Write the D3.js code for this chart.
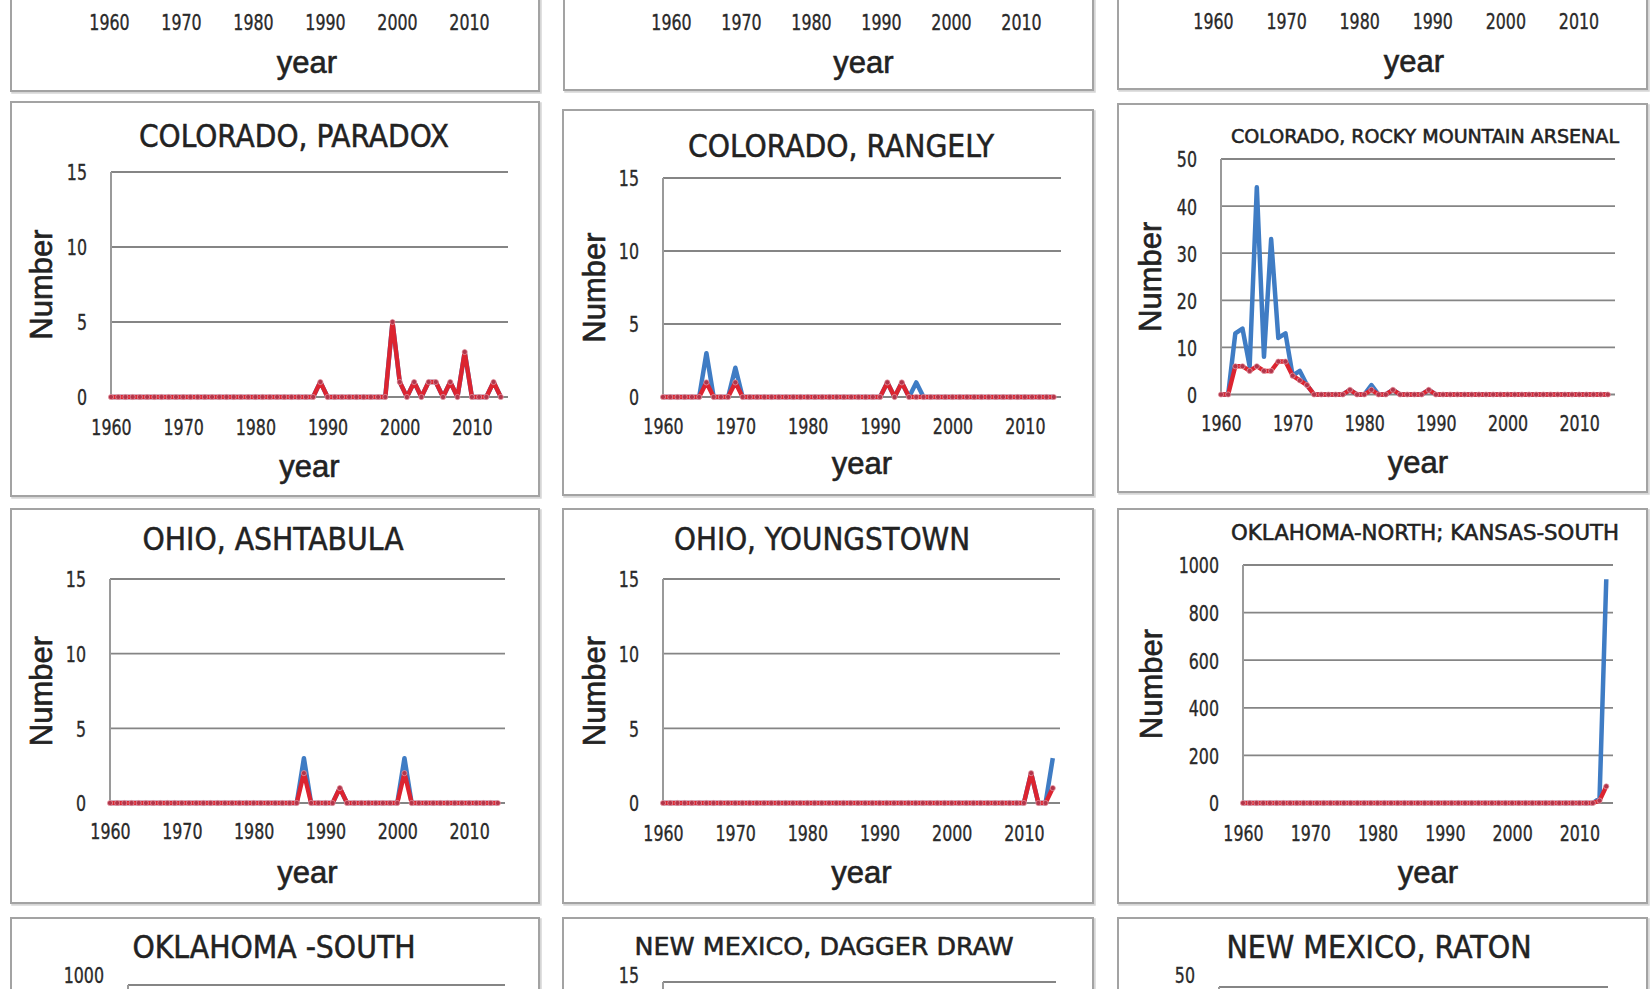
<!DOCTYPE html>
<html>
<head>
<meta charset="utf-8">
<script src="https://cdn.jsdelivr.net/npm/d3@7"></script>
<style>
  html, body { margin: 0; padding: 0; background: #ffffff; }
  svg { display: block; }
  .narrow { font-family: "Liberation Sans Narrow", "DejaVu Sans Condensed", "Arial Narrow", "Liberation Sans", sans-serif; }
  .wide { font-family: "Liberation Sans", Arial, sans-serif; }
</style>
</head>
<body>
<svg id="chart" width="1650" height="989"></svg>
<script>
// ---------------- DATA ----------------
const years = [
  1960,1961,1962,1963,1964,1965,1966,1967,1968,1969,
  1970,1971,1972,1973,1974,1975,1976,1977,1978,1979,
  1980,1981,1982,1983,1984,1985,1986,1987,1988,1989,
  1990,1991,1992,1993,1994,1995,1996,1997,1998,1999,
  2000,2001,2002,2003,2004,2005,2006,2007,2008,2009,
  2010,2011,2012,2013,2014
];
const xTickYears = [1960, 1970, 1980, 1990, 2000, 2010];
const yTicks15 = [0, 5, 10, 15];
const yTicks50 = [0, 10, 20, 30, 40, 50];
const yTicks1000 = [0, 200, 400, 600, 800, 1000];

// blue = all events, red = larger events
const paradoxAll = [
  0,0,0,0,0,0,0,0,0,0,
  0,0,0,0,0,0,0,0,0,0,
  0,0,0,0,0,0,0,0,0,1,
  0,0,0,0,0,0,0,0,0,5,
  1,0,1,0,1,1,0,1,0,3,
  0,0,0,1,0
];
const paradoxLarge = [
  0,0,0,0,0,0,0,0,0,0,
  0,0,0,0,0,0,0,0,0,0,
  0,0,0,0,0,0,0,0,0,1,
  0,0,0,0,0,0,0,0,0,5,
  1,0,1,0,1,1,0,1,0,3,
  0,0,0,1,0
];
const rangelyAll = [
  0,0,0,0,0,0,3,0,0,0,
  2,0,0,0,0,0,0,0,0,0,
  0,0,0,0,0,0,0,0,0,0,
  0,1,0,1,0,1,0,0,0,0,
  0,0,0,0,0,0,0,0,0,0,
  0,0,0,0,0
];
const rangelyLarge = [
  0,0,0,0,0,0,1,0,0,0,
  1,0,0,0,0,0,0,0,0,0,
  0,0,0,0,0,0,0,0,0,0,
  0,1,0,1,0,0,0,0,0,0,
  0,0,0,0,0,0,0,0,0,0,
  0,0,0,0,0
];
const rockyAll = [
  0,0,13,14,6,44,8,33,12,13,
  4,5,2,0,0,0,0,0,1,0,
  0,2,0,0,1,0,0,0,0,1,
  0,0,0,0,0,0,0,0,0,0,
  0,0,0,0,0,0,0,0,0,0,
  0,0,0,0,0
];
const rockyLarge = [
  0,0,6,6,5,6,5,5,7,7,
  4,3,2,0,0,0,0,0,1,0,
  0,1,0,0,1,0,0,0,0,1,
  0,0,0,0,0,0,0,0,0,0,
  0,0,0,0,0,0,0,0,0,0,
  0,0,0,0,0
];
const ashtabulaAll = [
  0,0,0,0,0,0,0,0,0,0,
  0,0,0,0,0,0,0,0,0,0,
  0,0,0,0,0,0,0,3,0,0,
  0,0,1,0,0,0,0,0,0,0,
  0,3,0,0,0,0,0,0,0,0,
  0,0,0,0,0
];
const ashtabulaLarge = [
  0,0,0,0,0,0,0,0,0,0,
  0,0,0,0,0,0,0,0,0,0,
  0,0,0,0,0,0,0,2,0,0,
  0,0,1,0,0,0,0,0,0,0,
  0,2,0,0,0,0,0,0,0,0,
  0,0,0,0,0
];
const youngstownAll = [
  0,0,0,0,0,0,0,0,0,0,
  0,0,0,0,0,0,0,0,0,0,
  0,0,0,0,0,0,0,0,0,0,
  0,0,0,0,0,0,0,0,0,0,
  0,0,0,0,0,0,0,0,0,0,
  0,2,0,0,3
];
const youngstownLarge = [
  0,0,0,0,0,0,0,0,0,0,
  0,0,0,0,0,0,0,0,0,0,
  0,0,0,0,0,0,0,0,0,0,
  0,0,0,0,0,0,0,0,0,0,
  0,0,0,0,0,0,0,0,0,0,
  0,2,0,0,1
];
const okNorthAll = [
  0,0,0,0,0,0,0,0,0,0,
  0,0,0,0,0,0,0,0,0,0,
  0,0,0,0,0,0,0,0,0,0,
  0,0,0,0,0,0,0,0,0,0,
  0,0,0,0,0,0,0,0,0,0,
  0,0,0,20,940
];
const okNorthLarge = [
  0,0,0,0,0,0,0,0,0,0,
  0,0,0,0,0,0,0,0,0,0,
  0,0,0,0,0,0,0,0,0,0,
  0,0,0,0,0,0,0,0,0,0,
  0,0,0,0,0,0,0,0,0,0,
  0,0,0,10,70
];

const titles = [
  "COLORADO, PARADOX", "COLORADO, RANGELY", "COLORADO, ROCKY MOUNTAIN ARSENAL",
  "OHIO, ASHTABULA", "OHIO, YOUNGSTOWN", "OKLAHOMA-NORTH; KANSAS-SOUTH",
  "OKLAHOMA -SOUTH", "NEW MEXICO, DAGGER DRAW", "NEW MEXICO, RATON"
];
const xTitle = "year";
const yTitle = "Number";

// ---------------- LAYOUT ----------------
const BLUE = "#3f7cc4";
const RED = "#dc2430";
const VIEW_H = 989;

const panels = [
  // row 1 (only bottom visible)
  { box:[11,-40,539,91], left:109, right:505, top:-240, zero:-10, showY:false, tickBase:30, yearBase:73 },
  { box:[564,-40,1093,90], left:671, right:1056, top:-240, zero:-10, showY:false, tickBase:30, yearBase:73 },
  { box:[1118,-40,1647,89], left:1213, right:1615, top:-240, zero:-10, showY:false, tickBase:29, yearBase:72 },
  // row 2
  { box:[11,102,539,496], left:111, right:508, top:172, zero:397, yTicks:yTicks15, tickBase:435, yearBase:477, numX:41,
    title:titles[0], titleX:294, titleY:147, titleSize:32, titleW:310, all:paradoxAll, large:paradoxLarge },
  { box:[563,110,1093,495], left:663, right:1061, top:178, zero:397, yTicks:yTicks15, tickBase:434, yearBase:474, numX:594,
    title:titles[1], titleX:841, titleY:157, titleSize:32, titleW:306, all:rangelyAll, large:rangelyLarge },
  { box:[1118,104,1647,492], left:1221, right:1615, top:159, zero:394.5, yTicks:yTicks50, tickBase:431, yearBase:473, numX:1150,
    title:titles[2], titleX:1425, titleY:143, titleSize:19, titleW:388, all:rockyAll, large:rockyLarge },
  // row 3
  { box:[11,509,539,903], left:110, right:505, top:579, zero:803, yTicks:yTicks15, tickBase:839, yearBase:883, numX:41,
    title:titles[3], titleX:273, titleY:550, titleSize:32, titleW:261, all:ashtabulaAll, large:ashtabulaLarge },
  { box:[563,509,1093,903], left:663, right:1060, top:579, zero:803, yTicks:yTicks15, tickBase:841, yearBase:883, numX:594,
    title:titles[4], titleX:822, titleY:550, titleSize:32, titleW:296, all:youngstownAll, large:youngstownLarge },
  { box:[1118,509,1647,903], left:1243, right:1613, top:565, zero:803, yTicks:yTicks1000, tickBase:841, yearBase:883, numX:1151,
    title:titles[5], titleX:1425, titleY:540, titleSize:21, titleW:388, all:okNorthAll, large:okNorthLarge },
  // row 4 (only top visible)
  { box:[11,918,539,1300], left:128, right:505, top:985, zero:1210, yTicks:yTicks1000, numX:41,
    title:titles[6], titleX:274, titleY:958, titleSize:32, titleW:283, noX:true },
  { box:[563,918,1093,1300], left:663, right:1056, top:982, zero:1201, yTicks:yTicks15, numX:594,
    title:titles[7], titleX:824, titleY:955, titleSize:25, titleW:379, noX:true },
  { box:[1118,918,1647,1300], left:1219, right:1608, top:987, zero:1222, yTicks:yTicks50, numX:1151,
    title:titles[8], titleX:1379, titleY:958, titleSize:32, titleW:305, noX:true }
];

// condense a text element horizontally (tick labels are set in a narrow face)
function condense(sel, factor) {
  sel.each(function () {
    const w = this.getComputedTextLength();
    if (w > 0) {
      d3.select(this).attr("textLength", w * factor).attr("lengthAdjust", "spacingAndGlyphs");
    }
  });
}

// ---------------- DRAW ----------------
const svg = d3.select("#chart");

panels.forEach(p => {
  const g = svg.append("g");

  // panel frame with soft shadow
  g.append("rect")
    .attr("x", p.box[0] + 1.5).attr("y", p.box[1] + 1.5)
    .attr("width", p.box[2] - p.box[0]).attr("height", p.box[3] - p.box[1])
    .attr("fill", "none").attr("stroke", "#d6d6d6").attr("stroke-width", 2.5);
  g.append("rect")
    .attr("x", p.box[0]).attr("y", p.box[1])
    .attr("width", p.box[2] - p.box[0]).attr("height", p.box[3] - p.box[1])
    .attr("fill", "#ffffff").attr("stroke", "#a3a3a3").attr("stroke-width", 2);

  const x = d3.scaleLinear().domain([1960, 2015]).range([p.left, p.right]);
  const yMax = p.yTicks ? p.yTicks[p.yTicks.length - 1] : 15;
  const y = d3.scaleLinear().domain([0, yMax]).range([p.zero, p.top]);

  if (p.yTicks) {
    // gridlines
    g.append("g").selectAll("line").data(p.yTicks).join("line")
      .attr("x1", p.left).attr("x2", p.right)
      .attr("y1", d => y(d)).attr("y2", d => y(d))
      .attr("stroke", "#858585").attr("stroke-width", 1.8);
    // vertical axis line
    g.append("line")
      .attr("x1", p.left).attr("x2", p.left)
      .attr("y1", y(yMax)).attr("y2", y(0))
      .attr("stroke", "#9a9a9a").attr("stroke-width", 2);
    // y tick labels (only those inside the picture)
    const visibleTicks = p.yTicks.filter(d => y(d) < VIEW_H);
    const ya = g.append("g")
      .attr("transform", `translate(${p.left - 24},0)`)
      .call(d3.axisLeft(y).tickValues(visibleTicks).tickSize(0).tickPadding(0).tickFormat(d3.format("d")));
    ya.select(".domain").remove();
    ya.attr("font-family", null).attr("font-size", null);
    ya.selectAll("text")
      .attr("class", "narrow")
      .attr("font-size", 22).attr("fill", "#2a2a2a")
      .attr("stroke", "#2a2a2a").attr("stroke-width", 0.35)
      .attr("dy", "0.36em")
      // keep labels sitting at the very bottom edge fully inside the picture
      .attr("y", d => Math.min(0, (VIEW_H - 6) - (y(d) + 8)));
    condense(ya.selectAll("text"), 0.8);

    // y title (only when its panel is in view)
    const cy = (y(0) + y(yMax)) / 2;
    if (cy < VIEW_H) {
      g.append("text")
        .attr("class", "wide")
        .attr("transform", `translate(${p.numX + 11},${cy}) rotate(-90)`)
        .attr("text-anchor", "middle")
        .attr("font-size", 31).attr("fill", "#222")
        .attr("stroke", "#222").attr("stroke-width", 0.6)
        .text(yTitle);
    }
  }

  if (!p.noX) {
    const xa = g.append("g")
      .attr("transform", `translate(0,${p.tickBase})`)
      .call(d3.axisBottom(x).tickValues(xTickYears).tickSize(0).tickFormat(d3.format("d")));
    xa.select(".domain").remove();
    xa.attr("font-family", null).attr("font-size", null);
    xa.selectAll("text")
      .attr("class", "narrow")
      .attr("y", 0).attr("dy", 0)
      .attr("font-size", 22).attr("fill", "#2a2a2a")
      .attr("stroke", "#2a2a2a").attr("stroke-width", 0.35);
    condense(xa.selectAll("text"), 0.8);

    g.append("text")
      .attr("class", "wide")
      .attr("x", (p.left + p.right) / 2).attr("y", p.yearBase)
      .attr("text-anchor", "middle")
      .attr("font-size", 31).attr("fill", "#222")
      .attr("stroke", "#222").attr("stroke-width", 0.6)
      .text(xTitle);
  }

  if (p.title) {
    g.append("text")
      .attr("class", "narrow")
      .attr("x", p.titleX).attr("y", p.titleY)
      .attr("text-anchor", "middle")
      .attr("font-size", p.titleSize).attr("fill", "#222")
      .attr("stroke", "#222").attr("stroke-width", 0.5)
      .attr("textLength", p.titleW).attr("lengthAdjust", "spacingAndGlyphs")
      .text(p.title);
  }

  if (p.all) {
    const line = d3.line().x((d, i) => x(years[i])).y(d => y(d));
    g.append("path").datum(p.all)
      .attr("d", line).attr("fill", "none")
      .attr("stroke", BLUE).attr("stroke-width", 4.5)
      .attr("stroke-linejoin", "round");
    g.append("path").datum(p.large)
      .attr("d", line).attr("fill", "none")
      .attr("stroke", RED).attr("stroke-width", 4.4)
      .attr("stroke-linejoin", "round");
    g.append("g").selectAll("circle").data(p.large).join("circle")
      .attr("cx", (d, i) => x(years[i])).attr("cy", d => y(d))
      .attr("r", 2.6)
      .attr("fill", "#b3354a").attr("stroke", "#e9a0aa").attr("stroke-width", 0.7);
  }
});
</script>
</body>
</html>
